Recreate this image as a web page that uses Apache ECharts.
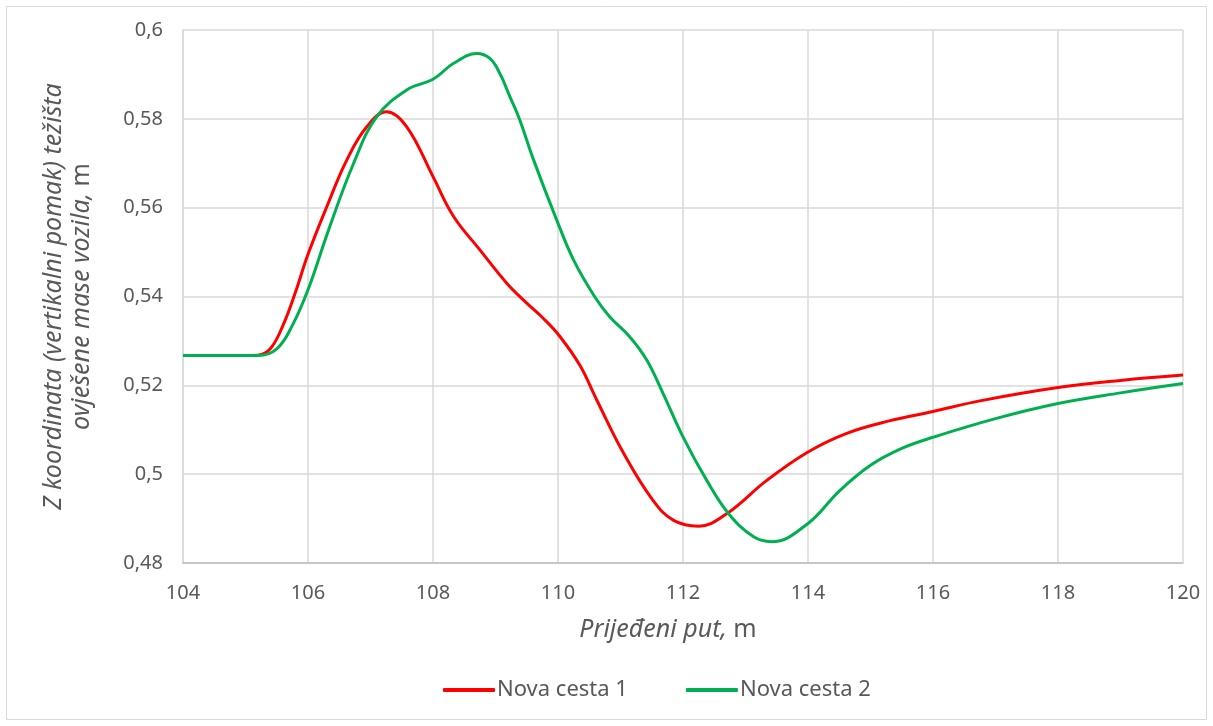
<!DOCTYPE html>
<html>
<head>
<meta charset="utf-8">
<script src="https://cdn.jsdelivr.net/npm/echarts@6/dist/echarts.min.js"></script>
<style>
  html, body { margin: 0; padding: 0; background: #fff; }
  #chart { width: 1213px; height: 726px; }
</style>
</head>
<body>
<div id="chart"></div>
<script>
// Nova cesta 1
const put1 = [104, 105, 105.2, 105.4, 105.6, 105.8, 106.0, 106.3, 106.62, 106.94, 107.26, 107.58, 108.0, 108.33, 108.75, 109.18, 109.5, 109.77, 110.03, 110.35, 110.62, 111.05, 111.52, 111.85, 112.25, 112.7, 113.34, 114.0, 114.62, 115.3, 116.0, 116.75, 118, 119, 120];
const z1 = [0.5267, 0.5267, 0.5268, 0.5283, 0.5335, 0.5410, 0.5495, 0.5602, 0.5707, 0.5782, 0.5816, 0.5782, 0.567, 0.558, 0.5505, 0.543, 0.5385, 0.535, 0.5310, 0.5245, 0.5167, 0.5047, 0.4941, 0.4896, 0.4883, 0.4911, 0.4986, 0.5050, 0.5092, 0.5120, 0.5141, 0.5165, 0.5195, 0.5211, 0.5223];
// Nova cesta 2
const put2 = [104, 105, 105.2, 105.5, 105.75, 106.0, 106.33, 106.73, 107.1, 107.58, 108.0, 108.33, 108.7, 108.91, 109.07, 109.23, 109.39, 109.6, 109.98, 110.25, 110.59, 110.83, 111.15, 111.42, 111.68, 112.0, 112.38, 112.73, 113.13, 113.42, 114.0, 114.5, 115.0, 115.5, 116.0, 117, 118, 119, 120];
const z2 = [0.5267, 0.5267, 0.5267, 0.5282, 0.5335, 0.5415, 0.555, 0.570, 0.5805, 0.5865, 0.5889, 0.5925, 0.5947, 0.5936, 0.5902, 0.585, 0.5797, 0.5711, 0.5572, 0.5482, 0.5399, 0.5354, 0.5309, 0.5257, 0.5182, 0.5084, 0.4986, 0.4911, 0.4859, 0.4848, 0.4889, 0.4962, 0.5020, 0.5058, 0.5083, 0.5125, 0.5159, 0.5183, 0.5204];

const seriesNames = ['Nova cesta 1', 'Nova cesta 2'];
const colors = ['#ff0000', '#00b050'];

function pairs(xs, ys) {
  return xs.map((x, i) => [x, ys[i]]);
}

const font = 'Noto Sans';
const txt = '#595959';
const chart = echarts.init(document.getElementById('chart'));
const option = {
  animation: false,
  color: colors,
  textStyle: { fontFamily: font },
  graphic: [{
    type: 'rect',
    shape: { x: 6.5, y: 6.5, width: 1200, height: 713 },
    style: { fill: 'none', stroke: '#d9d9d9', lineWidth: 1 },
    silent: true
  }],
  grid: { left: 183, right: 30, top: 30, bottom: 163 },
  legend: {
    bottom: 20,
    left: 438,
    itemWidth: 52,
    itemHeight: 4,
    itemGap: 58,
    icon: 'roundRect',
    textStyle: { fontSize: 22, color: txt, fontFamily: font, padding: [0, 0, 0, -3] },
    data: seriesNames
  },
  xAxis: {
    type: 'value',
    min: 104, max: 120, interval: 2,
    name: '{i|Prijeđeni put,} {n|m}',
    nameLocation: 'middle',
    nameGap: 54,
    nameTextStyle: {
      fontSize: 25,
      color: txt,
      padding: [0, 30, 0, 0],
      rich: {
        i: { fontSize: 25, fontStyle: 'italic', color: txt, fontFamily: font },
        n: { fontSize: 25, color: txt, fontFamily: font }
      }
    },
    axisLine: { show: true, lineStyle: { color: '#bfbfbf', width: 1.5 } },
    axisTick: { show: false },
    axisLabel: { fontSize: 20, color: txt, margin: 20 },
    splitLine: { show: true, lineStyle: { color: '#d9d9d9', width: 1.5 } }
  },
  yAxis: {
    type: 'value',
    min: 0.48, max: 0.6, interval: 0.02,
    name: '{i|Z koordinata (vertikalni pomak) težišta}\n{i|ovješene mase vozila,} {n|m}',
    nameLocation: 'middle',
    nameRotate: 90,
    nameGap: 87,
    nameTextStyle: {
      fontSize: 25,
      color: txt,
      lineHeight: 28,
      rich: {
        i: { fontSize: 25, fontStyle: 'italic', color: txt, fontFamily: font, lineHeight: 28 },
        n: { fontSize: 25, color: txt, fontFamily: font, lineHeight: 28 }
      }
    },
    axisLine: { show: true, lineStyle: { color: '#d9d9d9', width: 1.5 } },
    axisTick: { show: false },
    axisLabel: {
      fontSize: 20, color: txt, margin: 20,
      formatter: v => String(parseFloat(v.toFixed(2))).replace('.', ',')
    },
    splitLine: { show: true, lineStyle: { color: '#d9d9d9', width: 1.5 } }
  },
  series: [
    {
      name: seriesNames[0],
      type: 'line',
      smooth: 0.4,
      showSymbol: false,
      lineStyle: { width: 3, color: colors[0] },
      data: pairs(put1, z1)
    },
    {
      name: seriesNames[1],
      type: 'line',
      smooth: 0.4,
      showSymbol: false,
      lineStyle: { width: 3, color: colors[1] },
      data: pairs(put2, z2)
    }
  ]
};
chart.setOption(option);
</script>
</body>
</html>
